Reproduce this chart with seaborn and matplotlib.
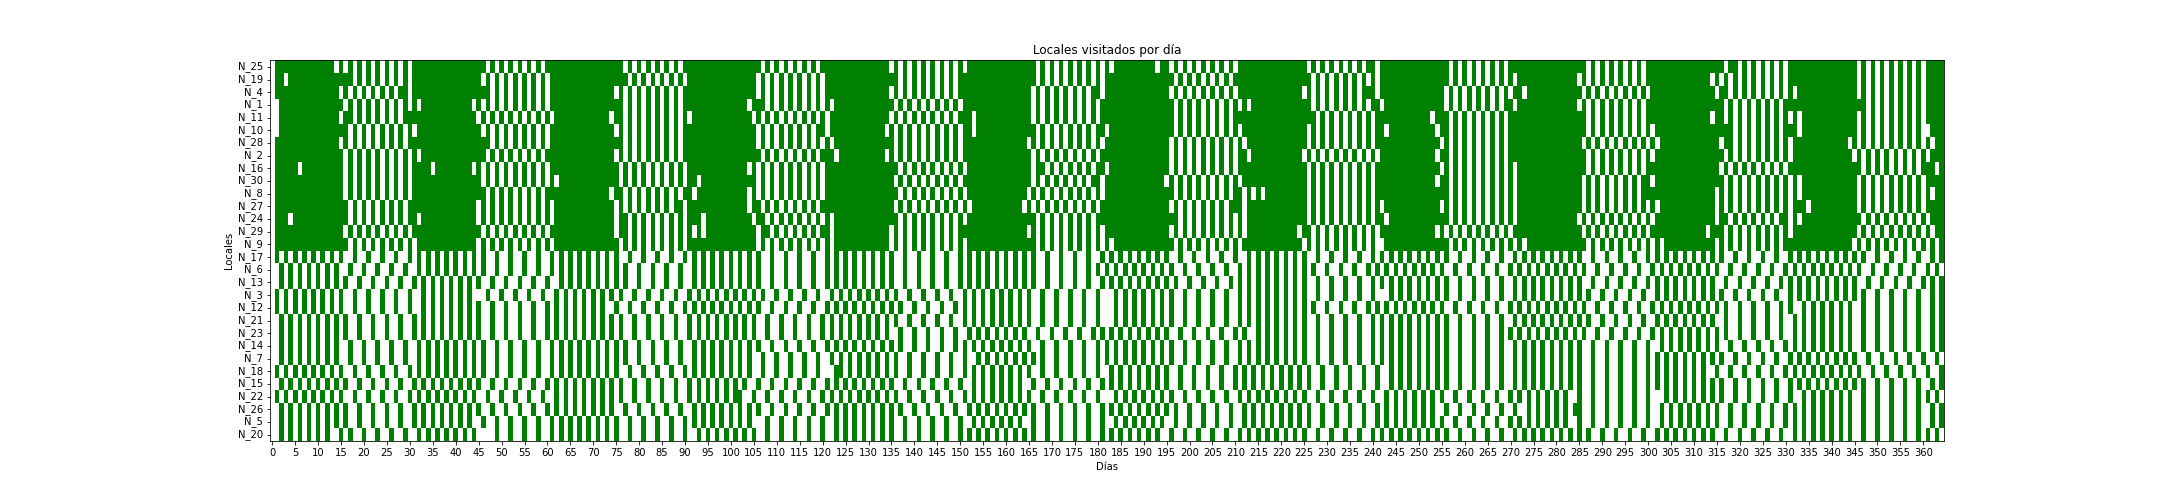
import numpy as np
import pandas as pd
import seaborn as sns
import matplotlib.pyplot as plt
from matplotlib.colors import ListedColormap

n_days = 365

# locales que van casi siempre: dias en blanco (sin visita)
N_25 = [0,14,16,18,20,22,24,26,28,30,47,49,51,53,55,57,59,77,79,81,83,85,87,89,107,109,111,113,115,117,119,135,137,139,141,143,145,147,149,151,167,169,171,173,175,177,179,181,183,193,196,198,200,202,204,206,208,210,226,228,230,232,234,236,238,241,257,259,261,263,265,267,269,287,289,291,293,295,297,299,317,320,322,324,326,328,330,346,348,350,352,354,356,358,360]
N_19 = [0,3,18,20,22,24,26,28,30,46,48,50,52,54,56,58,60,78,80,82,84,86,88,90,106,108,110,112,114,116,118,120,137,139,141,143,145,147,149,167,169,171,173,175,177,179,181,197,199,201,203,205,207,209,227,229,231,233,235,237,239,241,257,259,261,263,265,267,269,271,285,287,289,291,293,295,297,299,314,316,318,320,322,324,326,328,330,346,348,350,352,354,356,358,360]
N_4 = [0,15,17,19,21,23,25,27,30,48,50,52,54,56,58,60,75,77,79,81,83,85,87,89,106,108,110,112,114,116,118,120,135,137,139,141,143,145,147,149,166,168,170,172,174,176,178,181,196,198,200,202,204,206,208,210,225,227,229,231,233,235,237,241,256,258,260,262,264,266,268,270,273,286,288,290,292,294,296,298,300,315,318,320,322,324,326,328,330,332,346,348,350,352,354,356,358,360]
N_1 = [0,1,16,18,20,22,24,26,28,30,32,44,46,48,50,52,54,56,58,60,77,79,81,83,85,87,89,104,108,110,112,114,116,118,120,122,136,138,140,142,144,146,148,150,166,168,170,172,174,176,178,180,197,199,201,203,205,207,209,211,213,227,229,231,233,235,237,239,242,256,258,260,262,264,266,268,271,285,287,289,291,293,295,297,299,317,319,321,323,325,327,329,348,350,352,354,356,358,360]
N_11 = [0,1,15,18,20,22,24,26,28,45,47,49,51,53,55,57,59,61,74,77,79,81,83,85,87,89,91,105,107,109,111,113,115,117,119,121,135,137,139,141,143,145,147,149,153,166,168,170,172,174,176,178,180,197,199,201,203,205,207,209,228,230,232,234,236,238,240,253,257,259,261,263,265,267,269,287,289,291,293,295,297,299,314,317,319,321,323,325,327,329,331,333,346,348,350,352,354,356,358,360]
N_10 = [0,1,17,19,21,23,25,27,29,31,46,48,50,52,54,56,58,60,75,77,79,81,83,85,87,89,106,108,110,112,114,116,118,121,134,136,138,140,142,144,146,148,150,153,167,169,171,173,175,177,179,182,197,199,201,203,205,207,209,211,226,228,230,232,234,236,238,240,243,254,257,259,261,263,265,267,269,287,289,291,293,295,297,299,301,319,321,323,325,327,329,333,346,348,350,352,354,356,358,360,361]
N_28 = [0,15,17,19,21,23,25,27,29,48,50,52,54,56,58,60,77,79,81,83,85,87,89,106,108,110,112,114,116,118,120,122,136,138,140,142,144,146,148,150,165,167,169,171,173,175,177,179,181,196,198,200,202,204,206,208,210,212,226,228,230,232,234,236,238,240,255,257,259,261,263,265,267,269,286,288,290,292,294,296,298,300,302,316,319,321,323,325,327,329,331,344,346,348,350,352,354,356,358,360,362]
N_2 = [0,16,18,20,22,24,26,28,30,32,47,49,51,53,55,57,59,75,77,79,81,83,85,87,89,107,109,111,113,115,117,119,123,134,136,138,140,142,144,146,148,150,166,168,170,172,174,176,178,180,196,198,200,202,204,206,208,210,213,225,227,229,231,233,235,237,239,241,254,257,259,261,263,265,267,269,287,289,291,293,295,297,299,301,317,319,321,323,325,327,329,331,345,347,349,351,353,355,357,359,361]
N_16 = [0,6,16,18,20,22,24,26,28,30,35,44,46,48,50,52,54,56,58,60,76,78,80,82,84,86,88,90,104,106,108,110,112,114,116,118,120,137,139,141,143,145,147,149,151,166,169,171,173,175,177,179,182,196,198,200,202,204,206,208,210,226,228,230,232,234,236,238,240,255,257,259,261,263,265,267,269,271,287,289,291,293,295,297,299,316,318,320,322,324,326,328,330,347,349,351,353,355,357,359,363]
N_30 = [0,16,18,20,22,24,26,28,30,46,48,50,52,54,56,58,60,62,76,78,80,82,84,86,88,90,93,106,108,110,112,114,116,118,120,136,138,140,142,144,146,148,150,166,168,170,172,174,176,178,181,195,197,199,201,203,205,207,209,211,226,228,230,232,234,236,238,240,254,257,259,261,263,265,267,269,271,286,288,290,292,294,296,298,301,317,319,321,323,325,327,329,331,333,346,348,350,352,354,356,358,360]
N_8 = [0,16,18,20,22,24,26,28,30,47,49,51,53,55,57,59,74,77,79,81,83,85,87,89,92,104,106,108,110,112,114,116,118,120,137,139,141,143,145,147,149,151,165,167,169,171,173,175,177,179,181,197,199,201,203,205,207,209,212,214,216,226,228,230,232,234,236,238,240,257,259,261,263,265,267,269,271,286,288,290,292,294,296,298,315,317,319,321,323,325,327,329,331,333,346,348,350,352,354,356,358,360,362]
N_27 = [0,17,19,21,23,25,27,29,45,47,49,51,53,55,57,59,61,75,77,79,81,83,85,87,90,104,107,109,111,113,115,117,119,136,138,140,142,144,146,148,150,152,164,166,168,170,172,174,176,178,180,196,198,200,202,204,206,208,212,226,228,230,232,234,236,238,240,242,255,257,259,261,263,265,267,269,271,286,288,290,292,294,296,298,300,302,315,317,319,321,323,325,327,329,331,335,346,348,350,352,354,356,358,360]
N_24 = [0,4,17,19,21,23,25,27,29,32,45,47,49,51,53,55,57,59,61,75,78,80,82,84,86,88,90,94,105,108,110,112,114,116,118,120,122,137,139,141,143,145,147,149,151,167,169,171,173,175,177,179,198,200,202,204,206,208,210,212,226,228,230,232,234,236,238,240,243,257,259,261,263,265,267,269,271,285,287,289,291,293,295,297,299,301,315,318,320,322,324,326,328,331,333,347,349,351,353,355,357,359,361]
N_29 = [0,16,18,20,22,24,26,28,30,46,48,50,52,54,56,58,60,75,78,80,82,84,86,88,90,92,94,106,109,111,113,115,117,119,122,135,137,139,141,143,145,147,149,165,167,169,171,173,175,177,179,181,196,198,200,202,204,206,208,210,212,224,227,229,231,233,235,237,239,241,254,256,258,260,262,264,266,268,270,286,288,290,292,294,296,298,300,313,317,319,321,323,325,327,329,331,346,348,350,352,354,356,358,360,362]
N_9 = [0,17,19,21,23,25,27,29,31,45,47,49,51,53,55,57,59,61,76,78,80,82,84,86,88,90,106,108,110,112,114,116,118,120,122,135,137,139,141,143,145,147,149,151,167,169,171,173,175,177,179,181,183,197,199,201,203,205,207,209,211,225,227,229,231,233,235,237,239,241,242,257,259,261,263,265,267,269,271,273,287,289,291,293,295,297,299,301,303,315,317,319,321,323,325,327,329,345,347,349,351,353,355,357,359,361,363]

# locales de visita alterna: dias en verde (con visita)
N_17 = [1,3,5,7,9,11,13,15,18,21,24,27,30,32,34,36,38,40,42,44,46,49,52,55,58,61,63,65,67,69,71,73,75,78,81,84,87,90,92,94,96,98,100,102,104,106,109,112,115,118,121,123,125,127,129,131,133,135,138,141,144,147,150,152,154,156,158,160,162,164,166,169,172,175,178,181,183,185,187,189,191,193,195,198,201,204,207,210,213,215,217,219,221,223,225,228,231,234,237,240,242,244,246,248,250,252,254,256,259,262,265,268,271,273,275,277,279,281,283,285,288,291,294,297,300,302,304,306,308,310,312,314,316,319,322,325,328,331,333,335,337,339,341,343,345,347,350,353,356,359,362,364]
N_6 = [2,4,6,8,10,12,14,17,20,23,26,29,32,34,36,38,40,42,44,46,49,52,55,58,61,63,65,67,69,71,73,75,77,80,83,86,89,92,94,96,98,100,102,104,106,109,112,115,118,121,123,125,127,129,131,133,135,138,141,144,147,150,152,154,156,158,160,162,164,166,169,172,175,178,180,182,184,186,188,190,192,194,196,199,202,205,208,211,213,215,217,219,221,223,225,227,230,233,236,239,241,243,245,247,249,251,253,255,258,261,264,267,270,272,274,276,278,280,282,284,286,289,292,295,298,301,303,305,307,309,311,313,315,318,321,324,327,330,332,334,336,338,340,342,344,346,349,352,355,358,361,363]
N_13 = [2,4,6,8,10,12,14,16,19,22,25,28,31,33,35,37,39,41,43,45,48,51,54,57,60,63,65,67,69,71,73,75,77,80,83,86,89,92,94,96,98,100,102,104,106,109,112,115,118,121,123,125,127,129,131,133,135,138,141,144,147,150,152,154,156,158,160,162,164,166,169,172,175,178,181,183,185,187,189,191,193,195,197,200,203,206,209,211,213,215,217,219,221,223,225,228,231,234,237,240,242,244,246,248,250,252,254,256,259,262,265,268,271,273,275,277,279,281,283,285,288,291,294,297,300,302,304,306,308,310,312,314,317,320,323,326,329,331,333,335,337,339,341,343,345,348,351,354,357,360,362,364]
N_3 = [1,3,5,7,9,11,13,15,18,21,24,27,30,33,35,37,39,41,43,47,50,53,56,59,62,64,66,68,70,72,74,76,79,82,85,88,91,93,95,97,99,101,103,105,107,110,113,116,119,122,124,126,128,130,132,134,136,139,142,145,148,151,153,155,157,159,161,163,165,168,171,174,177,180,184,186,188,190,192,194,196,199,202,205,208,211,213,215,217,219,221,223,225,228,231,234,237,240,244,246,248,250,252,254,256,259,262,265,268,271,273,275,277,279,281,283,285,287,290,293,296,299,302,304,306,308,310,312,314,316,319,322,325,328,331,333,335,337,339,341,343,345,347,350,353,356,359,362,364]
N_12 = [1,3,5,7,9,11,13,15,18,21,24,27,30,33,35,37,39,41,43,45,48,51,54,57,60,62,64,66,68,70,72,75,78,81,84,87,90,92,94,96,98,100,102,104,106,109,112,115,118,121,123,125,127,129,131,133,135,137,140,143,146,149,151,153,155,157,159,161,163,165,168,171,174,177,180,184,186,188,190,192,194,196,199,202,205,208,211,213,215,217,219,221,223,225,227,230,233,236,239,241,243,245,247,249,251,253,255,258,261,264,267,270,272,274,276,278,280,282,284,286,289,292,295,298,301,303,305,307,309,311,313,315,317,320,323,326,329,331,334,336,338,340,342,344,347,350,353,356,359,362,364]
N_21 = [2,4,6,8,10,12,14,16,19,22,25,28,31,33,35,37,39,41,43,45,48,51,54,57,60,62,64,66,68,70,72,74,76,79,82,85,88,91,93,95,97,99,101,103,105,108,111,114,117,120,122,124,126,128,130,132,134,136,139,142,145,148,151,153,155,157,159,161,163,165,168,171,174,177,180,184,186,188,190,192,194,196,199,202,205,208,211,213,215,217,219,221,223,225,228,231,234,237,240,242,244,246,248,250,252,254,256,259,262,265,268,271,273,275,277,279,281,283,285,287,290,293,296,299,302,304,306,308,310,312,314,317,320,323,326,329,332,334,336,338,340,342,344,347,350,353,356,359,362,364]
N_23 = [2,4,6,8,10,12,14,16,19,22,25,28,31,33,35,37,39,41,43,45,48,51,54,57,60,62,64,66,68,70,72,74,76,79,82,85,88,91,93,95,97,99,101,103,105,108,111,114,117,120,122,124,126,128,130,132,134,137,140,143,146,149,152,154,156,158,160,162,164,167,170,173,176,179,181,183,185,187,189,191,193,195,198,201,204,207,210,212,215,217,219,221,223,225,228,231,234,237,240,242,244,246,248,250,252,254,256,259,262,265,268,270,272,274,276,278,280,282,284,286,289,292,295,298,301,303,305,307,309,311,313,315,317,320,323,326,329,332,334,336,338,340,342,344,347,350,353,356,359,362,364]
N_14 = [2,4,6,8,10,12,14,17,20,23,26,29,32,34,36,38,40,42,44,46,49,52,55,58,61,63,65,67,69,71,73,75,77,80,83,86,89,92,94,96,98,100,102,104,106,109,112,115,118,121,123,125,127,129,131,133,135,137,140,143,146,149,151,153,155,157,159,161,163,165,168,171,174,177,180,182,184,186,188,190,192,194,196,199,202,205,208,211,213,215,217,219,221,223,225,228,231,234,237,240,242,244,246,248,250,252,254,256,259,262,265,268,271,273,275,277,279,281,283,285,288,291,294,297,300,303,305,307,309,311,313,315,318,321,324,327,330,332,334,336,338,340,342,344,347,350,353,356,359,362,364]
N_7 = [2,4,6,8,10,12,14,17,20,23,26,29,32,34,36,38,40,42,44,46,49,52,55,58,61,63,65,67,69,71,73,75,77,80,83,86,89,92,94,96,98,100,102,104,107,110,113,116,119,122,124,126,128,130,132,134,136,139,142,145,148,151,154,156,158,160,162,164,166,168,171,174,177,180,182,184,186,188,190,192,194,196,199,202,205,208,211,213,215,217,219,221,223,225,228,231,234,237,240,242,244,246,248,250,252,254,256,259,262,265,268,271,273,275,277,279,281,283,285,288,291,294,297,300,302,304,306,308,310,312,314,316,319,322,325,328,331,333,335,337,339,341,343,345,348,351,354,357,360,363]
N_18 = [1,3,5,7,9,11,13,15,18,21,24,27,30,32,34,36,38,40,42,44,46,49,52,55,58,61,63,65,67,69,71,73,75,78,81,84,87,90,92,94,96,98,100,102,104,107,110,113,116,119,123,124,126,128,130,132,134,136,139,142,145,148,151,153,155,157,159,161,163,165,168,171,174,177,180,183,185,187,189,191,193,195,198,201,204,207,210,212,214,216,218,220,222,224,226,229,232,235,238,241,244,246,248,250,252,254,256,259,262,265,268,271,273,275,277,279,281,283,285,288,291,294,297,300,302,304,306,308,310,312,315,318,321,324,327,330,332,334,336,338,340,342,344,346,349,352,355,358,361,364]
N_15 = [2,4,6,8,10,12,14,16,19,22,25,28,31,33,35,37,39,41,43,45,48,51,54,57,60,62,64,66,68,70,72,74,76,79,82,85,88,91,93,95,97,99,101,103,106,109,112,115,118,121,123,125,127,129,131,133,135,138,141,144,147,150,153,155,157,159,161,163,166,169,172,175,178,181,183,185,187,189,191,193,195,198,201,204,207,210,212,214,216,218,220,222,224,226,229,232,235,238,241,244,246,248,250,252,254,256,259,262,265,268,271,273,275,277,279,281,283,285,288,291,294,297,300,302,304,306,308,310,312,314,316,319,322,325,328,331,333,335,337,339,341,343,345,347,350,353,356,359,362,364]
N_22 = [1,3,5,7,9,11,13,15,18,21,24,27,30,32,34,36,38,40,42,44,47,50,53,56,59,62,64,66,68,70,72,74,76,79,82,85,88,91,93,95,97,99,101,102,105,108,111,114,117,120,122,124,126,128,130,132,134,136,139,142,145,148,151,153,155,157,159,161,163,165,168,171,174,177,180,184,186,188,190,192,194,196,199,202,205,208,211,213,215,217,219,221,223,225,228,231,234,237,240,243,245,247,249,251,253,255,258,261,264,267,270,272,274,276,278,280,282,285,288,291,294,297,300,304,306,308,310,312,314,316,319,322,325,328,331,334,336,338,340,342,344,347,350,353,356,359,361,363]
N_26 = [2,4,6,8,10,12,14,16,19,22,25,28,31,33,35,37,39,41,43,45,48,51,54,57,60,62,64,66,68,70,72,74,77,80,83,86,89,92,94,96,98,100,102,104,106,109,112,115,118,121,123,125,127,129,131,133,135,137,140,143,146,149,152,154,156,158,160,162,164,166,169,172,175,178,181,183,185,187,189,191,193,195,197,200,203,206,209,212,214,216,218,220,222,224,226,229,232,235,238,241,243,245,247,249,251,253,256,259,262,265,268,271,274,276,278,280,282,284,285,288,291,294,297,300,303,305,307,309,311,313,315,318,321,324,327,330,332,334,336,338,340,342,344,347,350,353,356,359,362,364]
N_5 = [2,4,6,8,10,12,14,16,19,22,25,28,31,33,35,37,39,41,43,46,49,52,55,58,61,63,65,67,69,71,73,75,78,81,84,87,90,92,94,96,98,100,102,104,108,111,114,117,120,123,125,127,129,131,133,135,138,141,144,147,150,153,155,157,159,161,163,166,169,172,175,178,181,184,186,188,190,192,194,197,200,203,206,209,212,214,216,218,220,222,224,226,229,232,235,238,241,243,245,247,249,251,253,255,258,261,264,267,270,272,274,276,278,280,282,285,288,291,294,297,300,303,305,307,309,311,313,315,318,321,324,327,330,332,334,336,338,340,342,344,347,350,353,356,359,362,364]
N_20 = [2,4,6,8,10,12,15,17,20,23,26,29,32,34,36,38,40,42,44,49,52,55,58,61,63,65,67,69,71,73,75,78,81,84,87,90,93,95,97,99,101,103,105,108,111,114,117,120,123,125,127,129,131,133,135,138,141,144,147,150,152,154,156,158,160,162,164,166,169,172,175,178,181,183,185,187,189,191,193,196,199,202,205,208,211,213,215,217,219,221,223,225,228,231,234,237,240,242,244,246,248,250,252,254,256,259,262,265,268,271,273,275,277,279,281,283,285,287,290,293,296,299,302,304,306,308,310,312,314,317,320,323,326,329,332,334,336,338,340,342,344,347,350,353,356,359,361,363]

locales_top = ['N_25','N_19','N_4','N_1','N_11','N_10','N_28','N_2','N_16','N_30','N_8','N_27','N_24','N_29','N_9']
locales_bottom = ['N_17','N_6','N_13','N_3','N_12','N_21','N_23','N_14','N_7','N_18','N_15','N_22','N_26','N_5','N_20']
blancos = [N_25,N_19,N_4,N_1,N_11,N_10,N_28,N_2,N_16,N_30,N_8,N_27,N_24,N_29,N_9]
verdes = [N_17,N_6,N_13,N_3,N_12,N_21,N_23,N_14,N_7,N_18,N_15,N_22,N_26,N_5,N_20]

filas = []
for dias in blancos:
    fila = np.ones(n_days, dtype=int)
    fila[dias] = 0
    filas.append(fila)
for dias in verdes:
    fila = np.zeros(n_days, dtype=int)
    fila[dias] = 1
    filas.append(fila)

df = pd.DataFrame(filas, index=locales_top + locales_bottom, columns=range(n_days))

fig, ax = plt.subplots(figsize=(30, 7), dpi=72)
sns.heatmap(df, cmap=ListedColormap(['white', 'green']), cbar=False, xticklabels=5, yticklabels=True, vmin=0, vmax=1, ax=ax)
for s in ax.spines.values():
    s.set_visible(True)
ax.tick_params(axis='x', labelrotation=0)
ax.tick_params(axis='y', labelrotation=0)
ax.set_title('Locales visitados por día')
ax.set_xlabel('Días')
ax.set_ylabel('Locales')
fig.subplots_adjust(bottom=0.125)
fig.savefig('out.png', dpi=72)
